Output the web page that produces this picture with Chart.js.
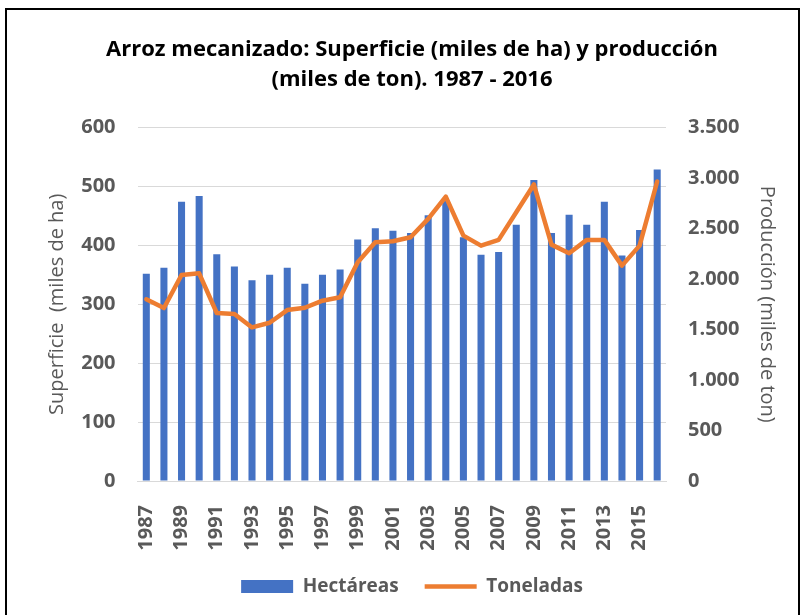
<!DOCTYPE html>
<html>
<head>
<meta charset="utf-8">
<script src="https://cdn.jsdelivr.net/npm/chart.js@4/dist/chart.umd.min.js"></script>
<style>
  html, body { margin: 0; padding: 0; background: #fff; width: 804px; height: 615px; overflow: hidden; }
  #frame { position: absolute; left: 5px; top: 8px; width: 791px; height: 610px; border: 2px solid #000; box-sizing: content-box; }
  #wrap { position: absolute; left: 0; top: 0; width: 791px; height: 610px; }
</style>
</head>
<body>
<div id="frame"><div id="wrap"><canvas id="c"></canvas></div></div>
<script>
const years = ['1987','1988','1989','1990','1991','1992','1993','1994','1995','1996','1997','1998','1999','2000','2001','2002','2003','2004','2005','2006','2007','2008','2009','2010','2011','2012','2013','2014','2015','2016'];
const hectareas = [352,362,474,484,385,364,341,350,362,335,350,359,410,429,425,421,451,477,414,384,389,435,511,421,452,435,474,383,426,529];
const toneladas = [1800,1713,2040,2057,1664,1654,1521,1567,1693,1716,1786,1819,2166,2364,2374,2414,2596,2817,2430,2331,2388,2662,2937,2341,2255,2388,2388,2133,2331,2966];
const leftTicks = [0,100,200,300,400,500,600];
const rightTicks = [0,500,1000,1500,2000,2500,3000,3500];

const gray = '#595959';
const fam = '"Open Sans", Lato, sans-serif';
Chart.defaults.font.family = fam;

const fmt = v => v.toString().replace(/\B(?=(\d{3})+(?!\d))/g, '.');

new Chart(document.getElementById('c'), {
  data: {
    labels: years,
    datasets: [
      { type: 'line', label: 'Toneladas', data: toneladas, yAxisID: 'y1', borderColor: '#ED7D31', backgroundColor: '#ED7D31',
        borderWidth: 4.5, pointRadius: 0, tension: 0, borderCapStyle: 'round', borderJoinStyle: 'round', pointStyle: 'line', order: 0 },
      { type: 'bar', label: 'Hectáreas', data: hectareas, yAxisID: 'y', backgroundColor: '#4472C4', borderWidth: 0,
        categoryPercentage: 1, barPercentage: 0.4, pointStyle: 'rect', order: 1 }
    ]
  },
  options: {
    responsive: true,
    maintainAspectRatio: false,
    animation: false,
    layout: { padding: { left: 34, right: 15, top: 0, bottom: 14 } },
    plugins: {
      title: {
        display: true,
        text: ['Arroz mecanizado: Superficie (miles de ha) y producción', '(miles de ton). 1987 - 2016'],
        color: '#000', font: { size: 22, weight: 'bold', family: fam, lineHeight: 1.4 }, padding: { top: 24, bottom: 32 }
      },
      legend: {
        position: 'bottom',
        reverse: true,
        labels: {
          usePointStyle: true, pointStyleWidth: 52, boxWidth: 52, boxHeight: 13,
          color: gray, font: { size: 19, weight: 'bold', family: fam }, padding: 26
        }
      },
      tooltip: { enabled: false }
    },
    scales: {
      x: {
        afterFit: s => { s.height = 70; },
        grid: { display: false },
        border: { color: '#d9d9d9' },
        ticks: {
          autoSkip: false, maxRotation: 90, minRotation: 90, color: gray, padding: 16,
          font: { size: 20, weight: 'bold', family: fam },
          callback: function(v, i) { return i % 2 === 0 ? this.getLabelForValue(v) : ''; }
        }
      },
      y: {
        position: 'left', min: 0, max: 600,
        afterFit: s => { s.width = 96.5; },
        afterBuildTicks: s => { s.ticks = leftTicks.map(v => ({ value: v })); },
        grid: { color: '#d9d9d9', lineWidth: 1, drawTicks: false },
        border: { display: false },
        ticks: { color: gray, font: { size: 20, weight: 'bold', family: fam }, padding: 22 },
        title: { display: true, text: 'Superficie  (miles de ha)', color: gray, font: { size: 20, family: fam }, padding: { top: 4, bottom: 12 } }
      },
      y1: {
        position: 'right', min: 0, max: 3500,
        afterFit: s => { s.width = 117; },
        afterBuildTicks: s => { s.ticks = rightTicks.map(v => ({ value: v })); },
        grid: { display: false, drawTicks: false },
        border: { display: false },
        ticks: { color: gray, font: { size: 20, weight: 'bold', family: fam }, padding: 22, callback: v => fmt(v) },
        title: { display: true, text: 'Producción (miles de ton)', color: gray, font: { size: 20, family: fam }, padding: { top: 4, bottom: 14 } }
      }
    }
  }
});
</script>
</body>
</html>
